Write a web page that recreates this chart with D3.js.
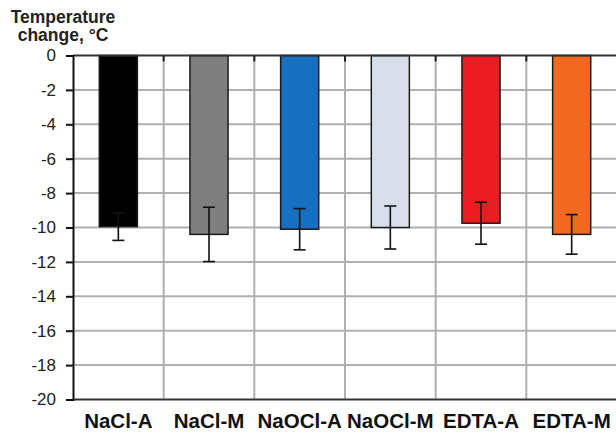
<!DOCTYPE html>
<html><head><meta charset="utf-8">
<script src="https://cdn.jsdelivr.net/npm/d3@7"></script>
<style>body{margin:0;background:#fff}svg{display:block}</style>
</head><body>
<script>
const categories = ["NaCl-A","NaCl-M","NaOCl-A","NaOCl-M","EDTA-A","EDTA-M"];
const values = [-9.95, -10.4, -10.1, -10.0, -9.75, -10.4];
const errors = [0.8, 1.58, 1.2, 1.25, 1.22, 1.15];
const colors = ["#000000","#7f7f7f","#176fc1","#d8dee9","#ed1c24","#f26a21"];
const yTicks = [0,-2,-4,-6,-8,-10,-12,-14,-16,-18,-20];

const W = 616, H = 437;
const svg = d3.select("body").append("svg").attr("width", W).attr("height", H);
const x0 = 73, x1 = 617, yTop = 55.5, yBot = 399.5;
const x = d3.scaleBand().domain(categories).range([x0, x1]).padding(0);
const y = d3.scaleLinear().domain([-20, 0]).range([yBot, yTop]);
const font = "'Liberation Sans', Arial, sans-serif";

// horizontal gridlines
svg.append("g").selectAll("line").data(yTicks.filter(d => d !== 0 && d !== -20)).join("line")
  .attr("x1", x0).attr("x2", x1).attr("y1", d => y(d)).attr("y2", d => y(d))
  .attr("stroke", "#b0b0b0").attr("stroke-width", 2);
// vertical gridlines at category boundaries
svg.append("g").selectAll("line").data(categories.slice(1)).join("line")
  .attr("x1", d => x(d)).attr("x2", d => x(d)).attr("y1", yTop).attr("y2", yBot)
  .attr("stroke", "#b0b0b0").attr("stroke-width", 2);

// bars
const bw = x.step() * 0.42;
const data = categories.map((c, i) => ({c, v: values[i], e: errors[i], col: colors[i]}));
svg.append("g").selectAll("rect").data(data).join("rect")
  .attr("x", d => x(d.c) + x.bandwidth()/2 - bw/2)
  .attr("width", bw)
  .attr("y", d => y(0))
  .attr("height", d => y(d.v) - y(0))
  .attr("fill", d => d.col)
  .attr("stroke", "#1a1a1a").attr("stroke-width", 1.5);

// error bars
const eg = svg.append("g").attr("stroke", "#111").attr("stroke-width", 1.6);
data.forEach(d => {
  const cx = x(d.c) + x.bandwidth()/2;
  eg.append("line").attr("x1", cx).attr("x2", cx).attr("y1", y(d.v + d.e)).attr("y2", y(d.v - d.e));
  [d.v + d.e, d.v - d.e].forEach(v => {
    eg.append("line").attr("x1", cx - 6).attr("x2", cx + 6).attr("y1", y(v)).attr("y2", y(v));
  });
});

// top axis (0) with category ticks
svg.append("line").attr("x1", x0).attr("x2", x1).attr("y1", y(0)).attr("y2", y(0))
  .attr("stroke", "#333").attr("stroke-width", 2);
svg.append("g").selectAll("line").data(categories.slice(1)).join("line")
  .attr("x1", d => x(d)).attr("x2", d => x(d)).attr("y1", y(0)).attr("y2", y(0) + 6)
  .attr("stroke", "#222").attr("stroke-width", 2);
// bottom line
svg.append("line").attr("x1", x0).attr("x2", x1).attr("y1", y(-20)).attr("y2", y(-20))
  .attr("stroke", "#333").attr("stroke-width", 2);

// y axis
const yAxis = d3.axisLeft(y).tickValues(yTicks).tickSize(7).tickPadding(10).tickFormat(d3.format("d"));
const ya = svg.append("g").attr("transform", `translate(${x0},0)`).call(yAxis);
ya.select(".domain").attr("stroke", "#111").attr("stroke-width", 2);
ya.selectAll(".tick line").attr("stroke", "#111").attr("stroke-width", 2);
ya.selectAll(".tick text").attr("font-family", font).attr("font-size", 17).attr("fill", "#222")
  .text(d => d === 0 ? "0" : "-" + Math.abs(d));

// x labels
svg.append("g").selectAll("text").data(categories).join("text")
  .attr("x", d => x(d) + x.bandwidth()/2).attr("y", 428)
  .attr("text-anchor", "middle").attr("font-family", font).attr("font-weight", "bold")
  .attr("font-size", 20.5).attr("fill", "#111").text(d => d);

// title
const t = svg.append("text").attr("font-family", font).attr("font-weight", "bold")
  .attr("font-size", 17.5).attr("fill", "#222").attr("text-anchor", "middle");
t.append("tspan").attr("x", 63).attr("y", 23).text("Temperature");
t.append("tspan").attr("x", 63).attr("y", 41).text("change, °C");
</script>
</body></html>
